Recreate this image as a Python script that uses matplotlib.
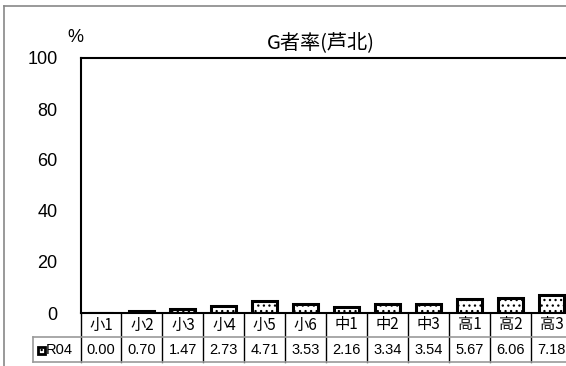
import matplotlib
matplotlib.use("Agg")
import matplotlib.pyplot as plt
from matplotlib.transforms import blended_transform_factory
from matplotlib.patches import Rectangle
from matplotlib.lines import Line2D

plt.rcParams['font.family'] = ['Liberation Sans', 'Noto Sans CJK JP', 'DejaVu Sans']
plt.rcParams['hatch.linewidth'] = 0.9
CJK = ['Noto Sans CJK JP', 'DejaVu Sans']

categories = ['小1', '小2', '小3', '小4', '小5', '小6', '中1', '中2', '中3', '高1', '高2', '高3']
values = [0.00, 0.70, 1.47, 2.73, 4.71, 3.53, 2.16, 3.34, 3.54, 5.67, 6.06, 7.18]
series_name = 'R04'
title = 'G者率(芦北)'
yticks = [0, 20, 40, 60, 80, 100]

W, H = 566, 366
fig = plt.figure(figsize=(W / 100, H / 100), dpi=100)
ax_left, ax_right, ax_top, ax_bottom = 80.5, 572, 58, 313
ax = fig.add_axes([ax_left / W, 1 - ax_bottom / H, (ax_right - ax_left) / W, (ax_bottom - ax_top) / H])

x = list(range(len(categories)))
ax.bar(x, values, width=0.61, color='white', edgecolor='black', linewidth=2.2, hatch='...')

ax.set_xlim(-0.5, len(categories) - 0.5)
ax.set_ylim(0, 100)
ax.set_yticks(yticks)
ax.set_yticklabels([str(v) for v in yticks], fontsize=13)
ax.tick_params(axis='y', length=0, pad=16.5)
ax.set_xticks([])
for s in ['left', 'top', 'bottom']:
    ax.spines[s].set_color('black')
    ax.spines[s].set_linewidth(1.5)
ax.spines['right'].set_visible(False)

fig.text(321 / W, 1 - 43 / H, title, fontsize=14.5, ha='center', va='center', family=CJK)
fig.text(75.5 / W, 1 - 37.5 / H, '%', fontsize=13, ha='center', va='center')

# table below plot
tr = blended_transform_factory(ax.transData, ax.transAxes)
h = float(ax_bottom - ax_top)
y0 = 0.0
y1 = -(337 - ax_bottom) / h
y2 = -(362 - ax_bottom) / h
col_w = (ax_right - ax_left) / len(categories)
left_x = (33 - ax_left) / col_w - 0.5
n = len(categories)
for i in range(n + 1):
    xi = i - 0.5
    ax.add_line(Line2D([xi, xi], [y0, y2], transform=tr, color='black', lw=1.0, clip_on=False))
ax.add_line(Line2D([left_x, n - 0.5], [y1, y1], transform=tr, color='#9a9a9a', lw=1.2, clip_on=False))
ax.add_line(Line2D([left_x, n - 0.5], [y2, y2], transform=tr, color='#9a9a9a', lw=1.2, clip_on=False))
ax.add_line(Line2D([left_x, left_x], [y1, y2], transform=tr, color='#9a9a9a', lw=1.2, clip_on=False))
for i, (c, v) in enumerate(zip(categories, values)):
    ax.text(i, (y0 + y1) / 2, c, transform=tr, ha='center', va='center', fontsize=11, family=CJK)
    ax.text(i, (y1 + y2) / 2, f'{v:.2f}', transform=tr, ha='center', va='center', fontsize=10.5)

# row label with legend marker
fig.text(46 / W, 1 - 349.5 / H, series_name, fontsize=10.5, ha='left', va='center')
fig.patches.append(Rectangle((38 / W, 1 - 353.5 / H), 7 / W, 7 / H, transform=fig.transFigure,
                             facecolor='white', edgecolor='black', lw=2, hatch='...'))

# outer border
fig.add_artist(Line2D([3.5 / W, 3.5 / W], [0, 1 - 6 / H], transform=fig.transFigure, color='#888888', lw=1.2))
fig.add_artist(Line2D([3.5 / W, 1], [1 - 6 / H, 1 - 6 / H], transform=fig.transFigure, color='#888888', lw=1.2))

fig.savefig('out.png', dpi=100)
